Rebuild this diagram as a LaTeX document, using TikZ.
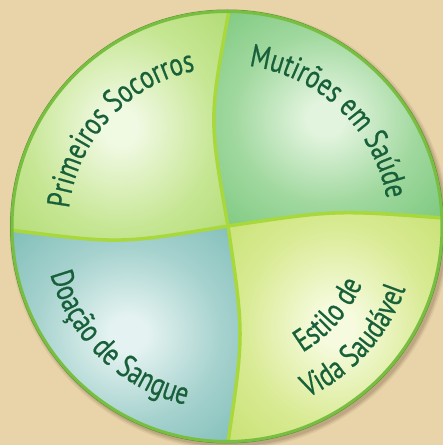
\documentclass[tikz,border=0pt]{standalone}
\usepackage{fontspec}
\newfontfamily\lblfam[FakeStretch=0.78,FakeBold=0.6]{PT Sans}
\newcommand\lblfont{\lblfam\fontsize{32}{36}\selectfont}
\usetikzlibrary{decorations.text}
\definecolor{bg}{HTML}{E9D4AA}
\definecolor{txt}{HTML}{17603A}
\definecolor{divider}{HTML}{A8D83C}
\definecolor{rim}{HTML}{78BE40}
\definecolor{rimdark}{HTML}{5A9634}
\definecolor{tlA}{HTML}{F0F9E2}
\definecolor{tlB}{HTML}{C6E693}
\definecolor{tlC}{HTML}{A2D45E}
\definecolor{trA}{HTML}{E2F4DE}
\definecolor{trB}{HTML}{A0D89E}
\definecolor{trC}{HTML}{66BF6C}
\definecolor{blA}{HTML}{E4F3F1}
\definecolor{blB}{HTML}{A6D2CE}
\definecolor{blC}{HTML}{6AB2AC}
\definecolor{brA}{HTML}{F6FBDF}
\definecolor{brB}{HTML}{D8EA92}
\definecolor{brC}{HTML}{BCDB5E}
\pgfdeclareradialshading{qTL}{\pgfpoint{0bp}{0bp}}{color(0bp)=(tlA); color(4bp)=(tlA); color(22bp)=(tlB); color(46bp)=(tlC)}
\pgfdeclareradialshading{qTR}{\pgfpoint{0bp}{0bp}}{color(0bp)=(trA); color(4bp)=(trA); color(20bp)=(trB); color(44bp)=(trC)}
\pgfdeclareradialshading{qBL}{\pgfpoint{0bp}{0bp}}{color(0bp)=(blA); color(4bp)=(blA); color(20bp)=(blB); color(44bp)=(blC)}
\pgfdeclareradialshading{qBR}{\pgfpoint{0bp}{0bp}}{color(0bp)=(brA); color(4bp)=(brA); color(22bp)=(brB); color(46bp)=(brC)}
\begin{document}
\begin{tikzpicture}[x=1pt,y=1pt,
  divline/.style={draw=divider, line width=3.5pt},
  curvedlabel/.style={decorate, decoration={text along path, text align=center, text color=txt, text={|\lblfont|#1}}}]
\useasboundingbox (0,0) rectangle (443,445);
\fill[bg] (0,0) rectangle (443,445);
% coordinates
\coordinate (C) at (227,218.5);
\coordinate (J) at (228,219);
\coordinate (T) at (228.9,433.5);
\coordinate (L) at (12.0,214.75);
\coordinate (R) at (441.8,227.1);
\coordinate (B) at (228.1,3.5);
\coordinate (cT) at (209,326);
\coordinate (cL) at (120,201);
\coordinate (cR) at (335,235);
\coordinate (cB) at (244,111);
% soft shadow
\foreach \s/\o in {5/0.08,3.5/0.10,2/0.12}{
  \fill[black!60!brown, opacity=\o] ([shift={(2.5,-3)}]C) circle[radius=215+\s];
}
% quadrants
\shade[shading=qTL] (J) .. controls (cT) .. (T) arc[start angle=89.5, end angle=181, radius=215] .. controls (cL) .. (J) -- cycle;
\shade[shading=qTR] (J) .. controls (cR) .. (R) arc[start angle=2.3, end angle=89.5, radius=215] .. controls (cT) .. (J) -- cycle;
\shade[shading=qBL] (J) .. controls (cL) .. (L) arc[start angle=181, end angle=270.3, radius=215] .. controls (cB) .. (J) -- cycle;
\shade[shading=qBR] (J) .. controls (cB) .. (B) arc[start angle=270.3, end angle=362.3, radius=215] .. controls (cR) .. (J) -- cycle;
% dividers
\draw[divline] (J) .. controls (cT) .. (T);
\draw[divline] (J) .. controls (cR) .. (R);
\draw[divline] (J) .. controls (cB) .. (B);
\draw[divline] (J) .. controls (cL) .. (L);
% rim
\draw[rimdark, line width=0.8pt] (C) circle[radius=216.6];
\draw[rim, line width=3pt] (C) circle[radius=215];
% labels
\path[curvedlabel={Primeiros Socorros}] ([shift={(187.5:159)}]C) arc[start angle=187.5, end angle=87.5, radius=159];
\path[curvedlabel={Mutirões em Saúde}] ([shift={(96:162)}]C) arc[start angle=96, end angle=-4, radius=162];
\path[curvedlabel={Doação de Sangue}] ([shift={(176:183)}]C) arc[start angle=176, end angle=276, radius=183];
\path[curvedlabel={Vida Saudável}] ([shift={(273:189)}]C) arc[start angle=273, end angle=363, radius=189];
\path[curvedlabel={Estilo de}] ([shift={(279:147)}]C) arc[start angle=279, end angle=359, radius=147];
\end{tikzpicture}
\end{document}
